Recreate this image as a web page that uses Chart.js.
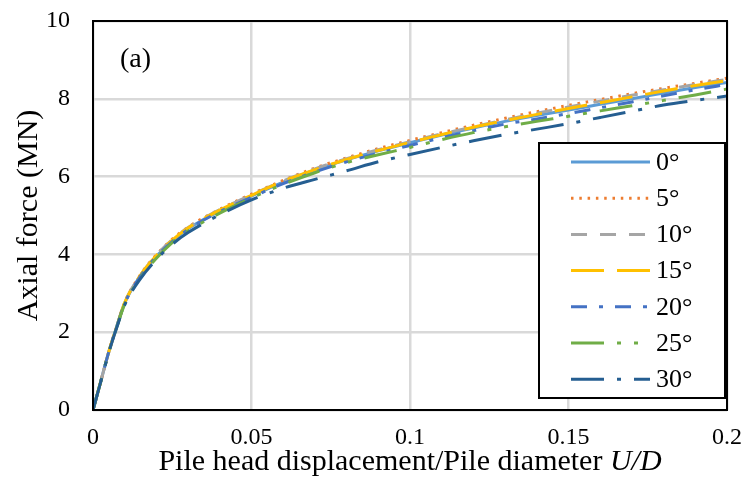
<!DOCTYPE html>
<html lang="en">
<head>
<meta charset="UTF-8">
<title>Axial force vs pile head displacement</title>
<script src="https://cdn.jsdelivr.net/npm/chart.js@4"></script>
<style>
  html, body { margin: 0; padding: 0; background: #fff; }
</style>
</head>
<body>
<canvas id="forceChart" width="744" height="492"></canvas>
<script>
// U/D values (x) shared by all curves
const displacement = [0, 0.0025, 0.005, 0.0075, 0.01, 0.015, 0.02, 0.025, 0.03, 0.04, 0.05,
  0.06, 0.07, 0.08, 0.09, 0.1, 0.11, 0.12, 0.13, 0.14, 0.15, 0.16, 0.17, 0.18, 0.19, 0.2];

// axial force (MN) for each inclination angle
const force0  = [0, 0.75, 1.5, 2.15, 2.75, 3.45, 3.95, 4.35, 4.66, 5.12, 5.5, 5.86, 6.17, 6.43, 6.66, 6.87, 7.07, 7.25, 7.42, 7.57, 7.71, 7.86, 8.0, 8.15, 8.29, 8.42];
const force5  = [0, 0.75, 1.5, 2.15, 2.76, 3.48, 3.99, 4.39, 4.7, 5.16, 5.55, 5.9, 6.22, 6.48, 6.72, 6.93, 7.13, 7.32, 7.5, 7.67, 7.83, 7.98, 8.13, 8.27, 8.4, 8.53];
const force10 = [0, 0.75, 1.5, 2.15, 2.76, 3.47, 3.98, 4.38, 4.69, 5.15, 5.53, 5.89, 6.2, 6.46, 6.69, 6.9, 7.1, 7.28, 7.46, 7.63, 7.79, 7.94, 8.09, 8.23, 8.37, 8.5];
const force15 = [0, 0.75, 1.5, 2.15, 2.76, 3.47, 3.97, 4.37, 4.68, 5.14, 5.52, 5.88, 6.18, 6.44, 6.67, 6.88, 7.08, 7.27, 7.44, 7.6, 7.75, 7.9, 8.05, 8.2, 8.34, 8.47];
const force20 = [0, 0.75, 1.5, 2.14, 2.74, 3.44, 3.94, 4.33, 4.64, 5.1, 5.47, 5.82, 6.12, 6.38, 6.6, 6.8, 7.0, 7.18, 7.35, 7.48, 7.62, 7.77, 7.92, 8.08, 8.23, 8.37];
const force25 = [0, 0.75, 1.49, 2.13, 2.72, 3.4, 3.9, 4.3, 4.6, 5.06, 5.45, 5.8, 6.1, 6.36, 6.56, 6.75, 6.95, 7.13, 7.28, 7.42, 7.55, 7.69, 7.82, 7.96, 8.1, 8.25];
const force30 = [0, 0.74, 1.48, 2.12, 2.7, 3.38, 3.87, 4.26, 4.56, 5.02, 5.4, 5.7, 5.93, 6.15, 6.38, 6.57, 6.75, 6.92, 7.08, 7.22, 7.36, 7.52, 7.68, 7.84, 7.96, 8.07];

const angleLabels = ['0°', '5°', '10°', '15°', '20°', '25°', '30°'];
const allForces = [force0, force5, force10, force15, force20, force25, force30];

const colors = ['#5B9BD5', '#ED7D31', '#A5A5A5', '#FFC000', '#4472C4', '#70AD47', '#255E91'];
const dashes = [[], [2.5, 5.8], [16, 13], [33, 13], [16, 12, 4, 12], [33, 13, 4, 13, 4, 13], [33, 13, 4, 13]];

const serif = "'Liberation Serif', 'Times New Roman', serif";
Chart.defaults.font.family = serif;
Chart.defaults.color = '#000';

const datasets = allForces.map((f, i) => ({
  label: angleLabels[i],
  data: displacement.map((x, k) => ({ x: x, y: f[k] })),
  borderColor: colors[i],
  borderDash: dashes[i],
  borderWidth: 3,
  borderCapStyle: 'butt',
  pointRadius: 0,
  fill: false,
  cubicInterpolationMode: 'monotone',
  order: 6 - i
}));

// frame, legend box, axis titles and panel tag
const decorations = {
  id: 'decorations',
  afterDatasetsDraw(chart) {
    const ctx = chart.ctx;
    const a = chart.chartArea;
    ctx.save();
    ctx.strokeStyle = '#000';
    ctx.lineWidth = 2;
    ctx.setLineDash([]);
    ctx.strokeRect(a.left, a.top, a.right - a.left, a.bottom - a.top);

    // legend
    const lx = 539, ly = 143, lw = 186, lh = 255;
    ctx.fillStyle = '#fff';
    ctx.fillRect(lx, ly, lw, lh);
    ctx.strokeRect(lx, ly, lw, lh);
    chart.data.datasets.forEach((ds, i) => {
      const y = 162 + i * 36.2;
      ctx.beginPath();
      ctx.strokeStyle = ds.borderColor;
      ctx.lineWidth = 3;
      ctx.setLineDash(ds.borderDash);
      ctx.moveTo(571, y);
      ctx.lineTo(650, y);
      ctx.stroke();
      ctx.setLineDash([]);
      ctx.fillStyle = '#000';
      ctx.font = '26px ' + serif;
      ctx.textBaseline = 'middle';
      ctx.textAlign = 'left';
      ctx.fillText(ds.label, 656, y + 1);
    });

    // panel tag
    ctx.fillStyle = '#000';
    ctx.font = '28px ' + serif;
    ctx.textBaseline = 'alphabetic';
    ctx.fillText('(a)', 120, 67);

    // x title with italic U/D
    const plain = 'Pile head displacement/Pile diameter ';
    const ital = 'U/D';
    ctx.font = '30px ' + serif;
    const w1 = ctx.measureText(plain).width;
    ctx.font = 'italic 30px ' + serif;
    const w2 = ctx.measureText(ital).width;
    const x0 = (a.left + a.right) / 2 - (w1 + w2) / 2;
    ctx.textBaseline = 'middle';
    ctx.font = '30px ' + serif;
    ctx.fillText(plain, x0, 462);
    ctx.font = 'italic 30px ' + serif;
    ctx.fillText(ital, x0 + w1, 462);

    // y title
    ctx.translate(29, (a.top + a.bottom) / 2);
    ctx.rotate(-Math.PI / 2);
    ctx.textAlign = 'center';
    ctx.font = '30px ' + serif;
    ctx.fillText('Axial force (MN)', 0, 0);
    ctx.restore();
  }
};

function noEdgePadding(scale) {
  scale.paddingLeft = 0;
  scale.paddingRight = 0;
  scale.paddingTop = 0;
  scale.paddingBottom = 0;
}

const ctx = document.getElementById('forceChart').getContext('2d');
new Chart(ctx, {
  type: 'line',
  data: { datasets: datasets },
  options: {
    responsive: false,
    animation: false,
    layout: { padding: { top: 21, right: 17, left: 0, bottom: 0 } },
    plugins: { legend: { display: false }, tooltip: { enabled: false } },
    scales: {
      x: {
        type: 'linear',
        min: 0,
        max: 0.2,
        ticks: {
          stepSize: 0.05, padding: 13, font: { size: 24 }, maxRotation: 0,
          callback: v => String(parseFloat(v.toFixed(3)))
        },
        grid: { color: '#d9d9d9', lineWidth: 2.5, drawTicks: false },
        border: { display: false },
        afterFit(scale) { scale.height = 82; noEdgePadding(scale); }
      },
      y: {
        min: 0,
        max: 10,
        ticks: { stepSize: 2, padding: 23, font: { size: 24 } },
        grid: { color: '#d9d9d9', lineWidth: 2.5, drawTicks: false },
        border: { display: false },
        afterFit(scale) { scale.width = 93; noEdgePadding(scale); }
      }
    }
  },
  plugins: [decorations]
});
</script>
</body>
</html>
